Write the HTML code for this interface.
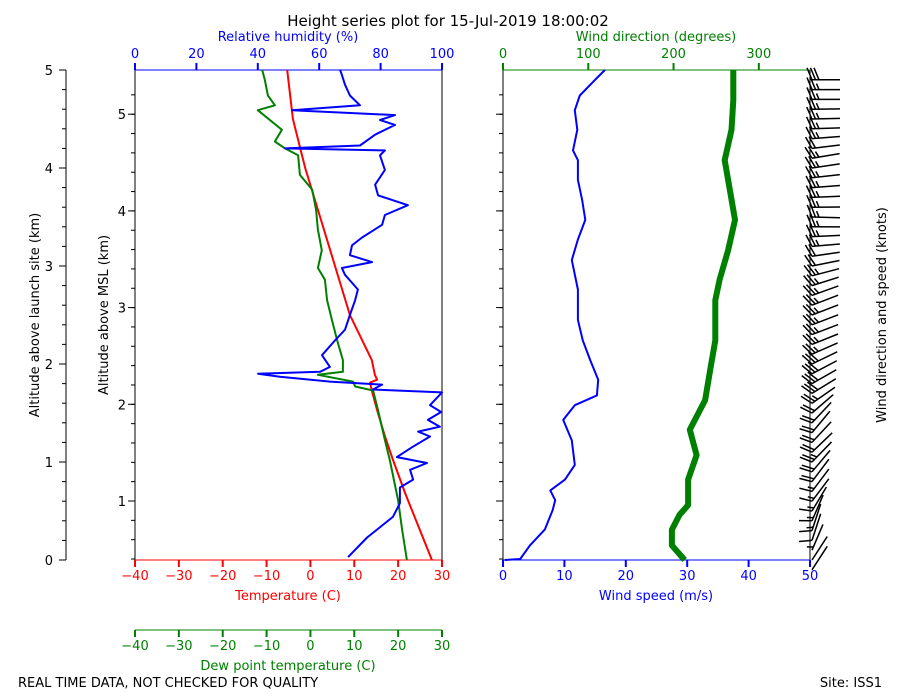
<!DOCTYPE html>
<html><head><meta charset="utf-8"><style>
body{margin:0;background:#fff;}
svg{display:block;font-family:"DejaVu Sans","Liberation Sans",sans-serif;}
</style></head><body>
<svg id="chart" width="900" height="700" viewBox="0 0 900 700" xmlns="http://www.w3.org/2000/svg">
<rect width="900" height="700" fill="#fff"/>
<text x="448" y="26" font-size="15" text-anchor="middle">Height series plot for 15-Jul-2019 18:00:02</text>
<text x="288" y="41" font-size="13" fill="blue" text-anchor="middle">Relative humidity (%)</text>
<text x="656" y="41" font-size="13" fill="green" text-anchor="middle">Wind direction (degrees)</text>
<text x="288" y="600" font-size="13" fill="red" text-anchor="middle">Temperature (C)</text>
<text x="288" y="670" font-size="13" fill="green" text-anchor="middle">Dew point temperature (C)</text>
<text x="656" y="600" font-size="13" fill="blue" text-anchor="middle">Wind speed (m/s)</text>
<text transform="translate(39,315) rotate(-90)" font-size="13" text-anchor="middle">Altitude above launch site (km)</text>
<text transform="translate(108,315) rotate(-90)" font-size="13" text-anchor="middle">Altitude above MSL (km)</text>
<text transform="translate(886,315) rotate(-90)" font-size="13" text-anchor="middle">Wind direction and speed (knots)</text>
<text x="18" y="687" font-size="13">REAL TIME DATA, NOT CHECKED FOR QUALITY</text>
<text x="882" y="687" font-size="13" text-anchor="end">Site: ISS1</text>
<g id="g"></g>
</svg>
<script>
// ---- data (heights in km above launch site) ----
const tempH = [0,0.68,1.05,1.26,1.53,1.73,1.81,1.84,1.89,2.04,2.5,3.0,3.5,4.0,4.5,5.0];
const tempV = [27.7,21.6,18.6,17.0,15.2,14.0,13.6,15.2,14.7,14.0,9.0,5.6,2.2,-1.2,-4.0,-5.3];
const dewH = [0,0.31,0.61,1.02,1.22,1.53,1.73,1.77,1.82,1.89,1.92,2.04,2.24,2.45,2.65,2.86,2.98,3.16,3.37,3.57,3.78,3.93,4.13,4.2,4.27,4.39,4.59,4.64,4.74,4.9,5.0];
const dewV = [22.0,20.9,20.0,18.1,17.0,15.4,14.3,10.2,9.7,1.7,7.4,7.4,6.1,4.9,3.8,3.3,1.7,2.6,1.7,1.3,0.4,-2.4,-2.8,-5.8,-8.1,-6.5,-12,-8.1,-9.7,-10.4,-11];
const rhH = [0.03,0.23,0.44,0.58,0.74,0.82,0.92,0.99,1.05,1.15,1.26,1.31,1.36,1.43,1.51,1.58,1.71,1.74,1.79,1.82,1.87,1.9,1.92,1.97,2.09,2.24,2.35,2.5,2.65,2.76,2.91,2.98,3.04,3.11,3.21,3.29,3.42,3.52,3.62,3.72,3.83,3.98,4.13,4.18,4.2,4.23,4.34,4.44,4.49,4.54,4.59,4.64,4.74,4.85,4.95,5.0];
const rhV = [69.4,75.6,84,86.3,86.3,90.6,89.6,95.1,85.3,90.2,96.1,92.2,99.3,95.4,99.7,96.1,100,77.5,80.5,63.5,47.2,40.1,60.3,63.5,60.9,65.1,68.4,70,71.7,72.6,68.4,67.4,77.2,70,70.7,73.9,80.5,81.4,88.9,79.2,78.2,81.4,79.8,81.4,48.9,73.3,78.2,84.7,79.8,84.7,51.1,73.3,70,68.4,67.4,66.8];
const wsH = [0,0.01,0.15,0.31,0.51,0.61,0.71,0.82,0.97,1.22,1.43,1.58,1.68,1.84,2.04,2.24,2.45,2.76,3.06,3.27,3.47,3.67,3.88,4.08,4.18,4.39,4.59,4.74,4.9,5.0];
const wsV = [0.3,2.8,4.4,6.8,8.1,8.5,7.7,10.1,11.7,11.2,9.8,11.7,15.3,15.5,14.2,13.0,12.2,12.2,11.2,12.2,13.4,12.9,12.2,12.2,11.4,12.1,11.7,12.5,15.0,16.6];
const wdH = [0,0.15,0.31,0.46,0.56,0.82,1.07,1.33,1.63,1.94,2.24,2.65,2.86,3.16,3.47,3.78,4.08,4.39,4.69,5.0];
const wdV = [213,198,198,207,217,217,227,219,237,243,249,249,254,264,272,266,260,268,270,270];
const launchTicks = [0,1,2,3,4,5];
const mslTicks = [1,2,3,4,5];
const tempTicks = [-40,-30,-20,-10,0,10,20,30];
const rhTicks = [0,20,40,60,80,100];
const wsTicks = [0,10,20,30,40,50];
const wdTicks = [0,100,200,300];
const mslOffset = 0.385;

// ---- axis functions ----
const Y0=560, Y1=70;
const yH = h => Y0 - (Y0-Y1)*h/5;
const yMSL = m => 597.7 - 96.7*m;
const xT = t => 135 + (t+40)*(307/70);
const xRH = r => 135 + r*3.07;
const xWS = s => 503 + s*(307/50);
const xWD = d => 503 + d*(307/360);

const g=document.getElementById('g');
const NS='http://www.w3.org/2000/svg';
function el(tag,attrs,parent){const e=document.createElementNS(NS,tag);for(const k in attrs)e.setAttribute(k,attrs[k]);(parent||g).appendChild(e);return e;}
function txt(x,y,s,fill,anchor,parent){const t=el('text',{x:x,y:y,'font-size':13,fill:fill,'text-anchor':anchor},parent);t.textContent=s;return t;}
function fmt(v){return v<0?'\u2212'+Math.abs(v):String(v);}
function series(H,V,xf,color,w,name){
  const d=H.map((h,i)=>(i?'L':'M')+xf(V[i]).toFixed(1)+','+yH(h).toFixed(1)).join('');
  const p=el('path',{d:d,fill:'none',stroke:color,'stroke-width':w,'stroke-linejoin':'round'});
  
  
}
function interp(H,V,h){if(h<=H[0])return V[0];for(let i=1;i<H.length;i++){if(h<=H[i]){const f=(h-H[i-1])/(H[i]-H[i-1]);return V[i-1]+f*(V[i]-V[i-1]);}}return V[V.length-1];}

// launch-site axis
el('line',{x1:66,y1:70,x2:66,y2:560,stroke:'#000'});
for(let h=0;h<=5.001;h+=0.2){el('line',{x1:62,y1:yH(h),x2:66,y2:yH(h),stroke:'#000'});}
launchTicks.forEach(v=>{el('line',{x1:59,y1:yH(v),x2:66,y2:yH(v),stroke:'#000'});const t=txt(53,yH(v)+5,v,'#000','end');});

// MSL ticks (left plot and wind plot)
[135,503].forEach((X,k)=>{
  for(let m=0.4;m<=5.4;m+=0.2){const y=yMSL(m);if(y>=70&&y<=560)el('line',{x1:X-4,y1:y,x2:X,y2:y,stroke:'#000'});}
  mslTicks.forEach(v=>{el('line',{x1:X-7,y1:yMSL(v),x2:X,y2:yMSL(v),stroke:'#000'});if(k==0){const t=txt(126,yMSL(v)+5,v,'#000','end');}});
});

// left plot frame
el('line',{x1:135,y1:70,x2:135,y2:560,stroke:'#000'});
el('line',{x1:442,y1:70,x2:442,y2:560,stroke:'#000'});
el('line',{x1:135,y1:70,x2:442,y2:70,stroke:'blue'});
el('line',{x1:135,y1:560,x2:442,y2:560,stroke:'red'});
rhTicks.forEach(v=>{el('line',{x1:xRH(v),y1:63,x2:xRH(v),y2:70,stroke:'blue','stroke-width':2});txt(xRH(v),58,v,'blue','middle');});
tempTicks.forEach(v=>{el('line',{x1:xT(v),y1:560,x2:xT(v),y2:567,stroke:'red','stroke-width':2});txt(xT(v),580,fmt(v),'red','middle');});
// dew point axis
el('line',{x1:135,y1:630,x2:442,y2:630,stroke:'green'});
tempTicks.forEach(v=>{el('line',{x1:xT(v),y1:630,x2:xT(v),y2:637,stroke:'green','stroke-width':2});txt(xT(v),650,fmt(v),'green','middle');});

// right plot frame
el('line',{x1:503,y1:70,x2:503,y2:560,stroke:'#000'});
el('line',{x1:810,y1:70,x2:810,y2:560,stroke:'#000'});
el('line',{x1:503,y1:70,x2:810,y2:70,stroke:'green'});
el('line',{x1:503,y1:560,x2:810,y2:560,stroke:'blue'});
wdTicks.forEach(v=>{el('line',{x1:xWD(v),y1:63,x2:xWD(v),y2:70,stroke:'green','stroke-width':2});txt(xWD(v),58,v,'green','middle');});
wsTicks.forEach(v=>{el('line',{x1:xWS(v),y1:560,x2:xWS(v),y2:567,stroke:'blue','stroke-width':2});txt(xWS(v),580,v,'blue','middle');});

// series
series(tempH,tempV,xT,'red',2,'temperature-line');
series(dewH,dewV,xT,'green',2,'dewpoint-line');
series(rhH,rhV,xRH,'blue',2,'humidity-line');
series(wdH,wdV,xWD,'green',6,'wind-direction-line');
series(wsH,wsV,xWS,'blue',2,'wind-speed-line');

// wind barbs
const bg=el('g',{});


for(let h=-0.1;h<=4.95;h+=0.1){
  const dir=interp(wdH,wdV,Math.max(h,0)), kt=interp(wsH,wsV,Math.max(h,0))*1.944;
  const th=(270-dir)*Math.PI/180, vx=Math.cos(th), vy=-Math.sin(th);
  const nx=vy, ny=-vx;
  const x0=812, y0=yH(h);
  const L=28;
  el('line',{x1:x0,y1:y0,x2:x0+L*vx,y2:y0+L*vy,stroke:'#000','stroke-width':1.5},bg);
  let s=Math.round(kt/5)*5, pos=0;
  while(s>=10){el('line',{x1:x0+pos*vx,y1:y0+pos*vy,x2:x0+pos*vx+12*nx-5*vx,y2:y0+pos*vy+12*ny-5*vy,stroke:'#000','stroke-width':1.5},bg);s-=10;pos+=3.5;}
  if(s>=5){if(pos==0)pos=3.5;el('line',{x1:x0+pos*vx,y1:y0+pos*vy,x2:x0+pos*vx+6*nx-2.5*vx,y2:y0+pos*vy+6*ny-2.5*vy,stroke:'#000','stroke-width':1.5},bg);}
}
</script>
</body></html>
